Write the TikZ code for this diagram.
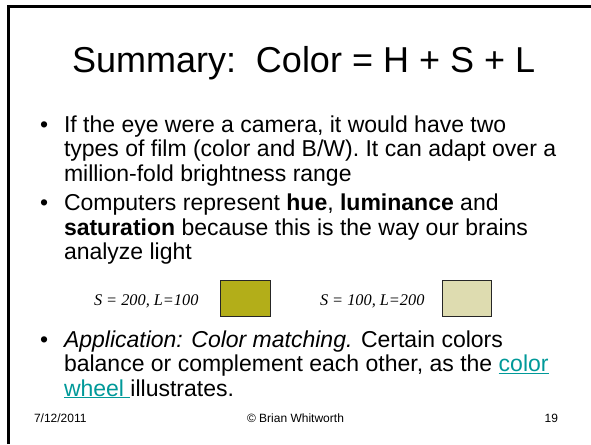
\documentclass[tikz,border=0pt]{standalone}
\usepackage{fontspec}
\setmainfont{Liberation Sans}
\newfontfamily\timesfont{Liberation Serif}
\definecolor{linkc}{RGB}{0,153,153}
\definecolor{oliveA}{RGB}{179,174,25}
\definecolor{paleA}{RGB}{222,220,176}
\tikzset{
  px/.style={inner sep=0pt, outer sep=0pt},
  body/.style={px, anchor=base west, font=\fontsize{23}{24.6}\selectfont},
  swatch/.style={px, draw=black!85, line width=0.9pt, minimum width=49.5pt, minimum height=36.5pt},
  foot/.style={px, anchor=base west, font=\fontsize{12}{14}\selectfont},
  eqn/.style={px, anchor=base west, font=\timesfont\itshape\fontsize{16.3}{18}\selectfont}
}
\begin{document}
\begin{tikzpicture}[x=1pt,y=1pt]
\useasboundingbox (0,0) rectangle (591,-444);
\fill[white] (0,0) rectangle (591,-444);
% frame lines
\draw[line width=3pt] (8.5,-444) -- (8.5,-6.8) -- (591,-6.8);
% title
\node[px, anchor=base west, font=\fontsize{36}{40}\selectfont] (title) at (72,-73) {Summary:\ \ Color = H + S + L};
% bullet 1
\node[body] (b1) at (40,-132) {•};
\node[body] (l11) at (64,-132) {If the eye were a camera, it would have two};
\node[body] (l12) at (64,-156.5) {types of film (color and B/W). It can adapt over a};
\node[body] (l13) at (64,-181) {million-fold brightness range};
% bullet 2
\node[body] (b2) at (40,-210.5) {•};
\node[body] (l21) at (64,-210.5) {Computers represent \textbf{hue}, \textbf{luminance} and};
\node[body] (l22) at (64,-235) {\textbf{saturation} because this is the way our brains};
\node[body] (l23) at (64,-259.5) {analyze light};
% swatches
\node[eqn] (e1) at (94,-305) {S = 200, L=100};
\node[swatch, fill=oliveA] (s1) at (245.5,-298.5) {};
\node[eqn] (e2) at (320,-305) {S = 100, L=200};
\node[swatch, fill=paleA] (s2) at (467,-298.5) {};
% bullet 3
\node[body] (b3) at (40,-347) {•};
\node[body] (l31) at (64,-347) {\textit{Application: Color matching.} Certain colors};
\node[body] (l32) at (64,-371.5) {balance or complement each other, as the \textcolor{linkc}{\underline{color}}};
\node[body] (l33) at (64,-396) {\textcolor{linkc}{\underline{wheel\ }}illustrates.};
% footer
\node[foot] (f1) at (34,-422) {7/12/2011};
\node[foot, anchor=base] (f2) at (295.5,-422) {© Brian Whitworth};
\node[foot, anchor=base east] (f3) at (558,-422) {19};
\end{tikzpicture}
\end{document}
